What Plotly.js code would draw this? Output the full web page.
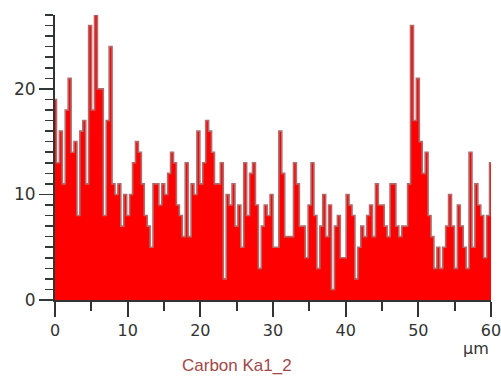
<!DOCTYPE html>
<html>
<head>
<meta charset="utf-8">
<script src="https://cdn.plot.ly/plotly-3.0.1.min.js"></script>
<style>html,body{margin:0;padding:0;background:#fff;}#chart{width:501px;height:378px;}</style>
</head>
<body>
<div id="chart"></div>
<script>
// Carbon Ka1_2 line-scan counts, one value per scan step (0 to 60 µm)
const scanStart = 0;
const scanEnd = 60;
const counts = [
  19,13,16,11,18,21,14,15,8,16,
  17,11,26,18,27,20,20,8,17,24,
  11,10,11,7,10,8,10,13,15,14,
  11,8,7,5,11,11,9,11,10,12,
  14,13,9,8,6,13,6,11,10,16,
  11,13,17,16,14,11,11,13,2,10,
  9,11,7,9,5,13,8,12,13,9,
  3,7,9,8,10,5,5,16,12,6,
  6,6,13,11,7,7,4,9,13,8,
  3,7,10,6,9,1,7,8,4,4,
  10,9,8,2,5,7,6,8,9,6,
  11,9,9,7,6,11,11,7,6,7,
  7,11,26,17,21,15,12,14,8,6,
  3,5,3,5,7,10,7,3,9,7,
  5,3,14,5,11,9,8,4,8,13
];
const xTickVals = [0,10,20,30,40,50,60];
const yTickVals = [0,10,20];
const seriesName = "Carbon Ka1_2";
const xUnit = "µm";

const n = counts.length;
const positions = counts.map((_, i) => scanStart + i * (scanEnd - scanStart) / (n - 1));

const trace = {
  x: positions,
  y: counts,
  type: 'scatter',
  mode: 'lines',
  line: {shape: 'hvh', color: '#b46a6a', width: 1.6},
  fill: 'tozeroy',
  fillcolor: '#ff0000',
  hoverinfo: 'skip',
  showlegend: false
};

const layout = {
  width: 501,
  height: 378,
  margin: {l: 55, r: 10, t: 15, b: 78},
  paper_bgcolor: '#ffffff',
  plot_bgcolor: '#ffffff',
  showlegend: false,
  font: {family: 'DejaVu Sans, Verdana, sans-serif', size: 16, color: '#333333'},
  xaxis: {
    range: [scanStart, scanEnd],
    tickvals: xTickVals,
    ticktext: xTickVals.map(String),
    ticks: 'outside',
    ticklen: 15,
    tickwidth: 2,
    tickcolor: '#333333',
    ticklabeloverflow: 'allow',
    minor: {dtick: 5, tick0: 0, ticks: 'outside', ticklen: 9, tickwidth: 2, tickcolor: '#333333', showgrid: false},
    showline: true,
    linecolor: '#333333',
    linewidth: 2,
    showgrid: false,
    zeroline: false,
    fixedrange: true,
    tickfont: {size: 16, color: '#333333'}
  },
  yaxis: {
    range: [0, 27],
    tickvals: yTickVals,
    ticktext: yTickVals.map(String),
    ticks: 'outside',
    ticklen: 14,
    tickwidth: 1.5,
    tickcolor: '#2f3a35',
    minor: {dtick: 1, tick0: 0, ticks: 'outside', ticklen: 8, tickwidth: 1.5, tickcolor: '#2f3a35', showgrid: false},
    showline: true,
    linecolor: '#333333',
    linewidth: 2,
    showgrid: false,
    zeroline: false,
    fixedrange: true,
    tickfont: {size: 17, color: '#333333'}
  },
  annotations: [
    {text: xUnit, xref: 'x', yref: 'paper', x: scanEnd, y: 0, xanchor: 'right', yanchor: 'top', yshift: -37, showarrow: false, font: {size: 16, color: '#333333'}},
    {text: seriesName, xref: 'paper', yref: 'paper', x: (237 - 55) / 436, y: 0, xanchor: 'center', yanchor: 'top', yshift: -55, borderpad: 0, showarrow: false, font: {family: 'Liberation Sans, Arial, sans-serif', size: 17, color: '#a04848'}}
  ]
};

Plotly.newPlot('chart', [trace], layout, {displayModeBar: false, staticPlot: true});
</script>
</body>
</html>
